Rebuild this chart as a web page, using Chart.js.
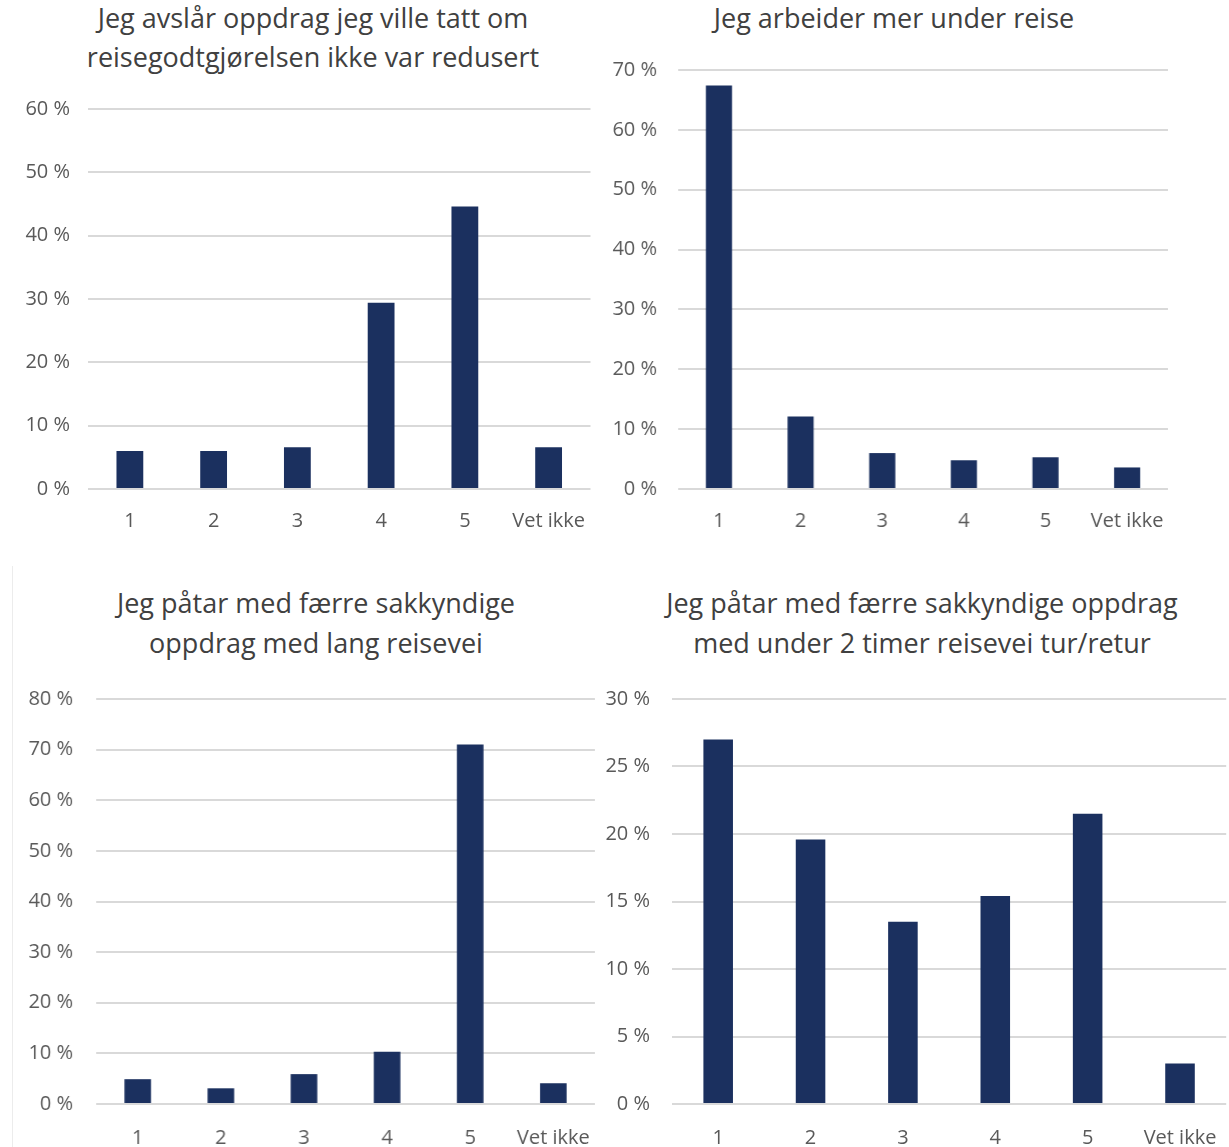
<!DOCTYPE html>
<html>
<head>
<meta charset="utf-8">
<script src="https://cdn.jsdelivr.net/npm/chart.js@4.4.1/dist/chart.umd.min.js"></script>
<style>
  body { margin: 0; background: #fff; width: 1229px; height: 1147px; position: relative; overflow: hidden; }
  canvas { position: absolute; }
  .tittel { position: absolute; width: 640px; text-align: center; font-family: 'Open Sans', 'Noto Sans', sans-serif;
            font-size: 27px; line-height: 39px; color: #404040; white-space: nowrap; }
  .edge { position: absolute; left: 12px; top: 566px; width: 0; height: 581px; border-left: 1px solid #ececec; }
</style>
</head>
<body>
<div class="edge"></div>
<div class="tittel" id="t1" style="left:-7px;top:-2px"></div>
<div class="tittel" id="t2" style="left:574px;top:-2px"></div>
<div class="tittel" id="t3" style="left:-4px;top:583px;line-height:40px"></div>
<div class="tittel" id="t4" style="left:602px;top:583px;line-height:40px"></div>
<canvas id="graf1"></canvas>
<canvas id="graf2"></canvas>
<canvas id="graf3"></canvas>
<canvas id="graf4"></canvas>
<script>
  // svaralternativer
  var kategorier = ['1', '2', '3', '4', '5', 'Vet ikke'];

  // andel svar i prosent, lest av figuren
  var avslaarOppdrag = [6.0, 6.0, 6.6, 29.4, 44.6, 6.6];
  var arbeiderMer = [67.4, 12.1, 6.0, 4.8, 5.3, 3.6];
  var faerreLangReise = [4.9, 3.1, 5.9, 10.3, 71.0, 4.1];
  var faerreKortReise = [27.0, 19.6, 13.5, 15.4, 21.5, 3.0];

  var titler = [
    ['Jeg avslår oppdrag jeg ville tatt om', 'reisegodtgjørelsen ikke var redusert'],
    ['Jeg arbeider mer under reise'],
    ['Jeg påtar med færre sakkyndige', 'oppdrag med lang reisevei'],
    ['Jeg påtar med færre sakkyndige oppdrag', 'med under 2 timer reisevei tur/retur']
  ];

  // aksemaks og steg
  var yMaks = [60, 70, 80, 30];
  var ySteg = [10, 10, 10, 5];

  var fontFamilie = "'Open Sans', 'Noto Sans', sans-serif";
  var stolpeFarge = '#1b305f';

  // o: canvas-venstre L og ønsket plottområde (left/right/top/bottom) på siden
  function lagGraf(id, data, maks, steg, o) {
    var canvas = document.getElementById(id);
    var T = o.top - 30;
    var W = o.right + 10 - o.L;
    var H = o.bottom + o.xh - T;
    var yw = o.left - o.L;
    canvas.style.left = o.L + 'px';
    canvas.style.top = T + 'px';
    canvas.style.width = W + 'px';
    canvas.style.height = H + 'px';
    canvas.width = W;
    canvas.height = H;

    var chart = new Chart(canvas.getContext('2d'), {
      type: 'bar',
      data: {
        labels: kategorier,
        datasets: [{
          data: data,
          backgroundColor: stolpeFarge,
          borderWidth: 0,
          barPercentage: 0.32,
          categoryPercentage: 1.0
        }]
      },
      options: {
        responsive: false,
        maintainAspectRatio: false,
        animation: false,
        devicePixelRatio: 1,
        layout: { padding: 0 },
        plugins: {
          legend: { display: false },
          tooltip: { enabled: false }
        },
        scales: {
          x: {
            grid: { display: false, drawTicks: false },
            border: { display: false },
            ticks: { color: '#595959', font: { family: fontFamilie, size: 20 }, padding: o.xp, maxRotation: 0 },
            afterFit: function(s) { s.height = o.xh; }
          },
          y: {
            min: 0,
            max: maks,
            ticks: {
              stepSize: steg,
              color: '#595959',
              font: { family: fontFamilie, size: 20 },
              padding: o.yp,
              callback: function(v) { return v + ' %'; }
            },
            grid: { color: '#d9d9d9', lineWidth: 2, drawTicks: false },
            border: { display: false },
            afterFit: function(s) { s.width = yw; }
          }
        }
      }
    });

    // flytt og endre canvas til plottområdet havner der det skal
    for (var k = 0; k < 5; k++) {
      var a = chart.chartArea;
      var dTop = (T + a.top) - o.top;
      var dRight = (o.L + a.right) - o.right;
      var dBottom = (T + a.bottom) - o.bottom;
      if (Math.abs(dTop) < 0.5 && Math.abs(dRight) < 0.5 && Math.abs(dBottom) < 0.5) break;
      T -= dTop;
      H -= dBottom - dTop;
      W -= dRight;
      canvas.style.top = T + 'px';
      canvas.style.width = W + 'px';
      canvas.style.height = H + 'px';
      chart.resize(W, H);
    }
    return chart;
  }

  titler.forEach(function(linjer, i) {
    var el = document.getElementById('t' + (i + 1));
    linjer.forEach(function(l, j) {
      if (j > 0) el.appendChild(document.createElement('br'));
      el.appendChild(document.createTextNode(l));
    });
  });

  lagGraf('graf1', avslaarOppdrag, yMaks[0], ySteg[0],
    { L: 0, left: 88, right: 590, top: 109, bottom: 489, yp: 18, xh: 56, xp: 20 });
  lagGraf('graf2', arbeiderMer, yMaks[1], ySteg[1],
    { L: 600, left: 678, right: 1167, top: 70, bottom: 489, yp: 21, xh: 56, xp: 20 });
  lagGraf('graf3', faerreLangReise, yMaks[2], ySteg[2],
    { L: 0, left: 96, right: 594, top: 699, bottom: 1104, yp: 23, xh: 43, xp: 22 });
  lagGraf('graf4', faerreKortReise, yMaks[3], ySteg[3],
    { L: 600, left: 672, right: 1226, top: 699, bottom: 1104, yp: 22, xh: 43, xp: 22 });
</script>
</body>
</html>
